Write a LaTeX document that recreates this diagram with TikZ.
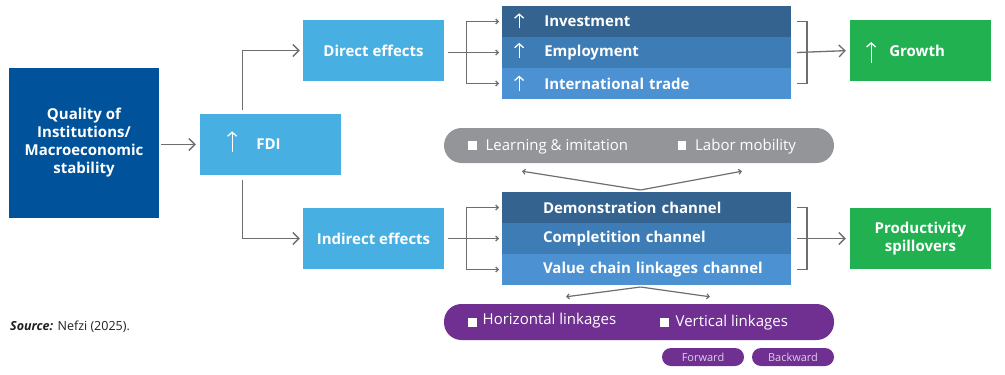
\documentclass[tikz,border=0pt]{standalone}
\usepackage{fontspec}
\setmainfont{Open Sans}
\usetikzlibrary{arrows.meta, calc, positioning}

\definecolor{instblue}{RGB}{0,83,155}
\definecolor{fxblue}{RGB}{71,175,226}
\definecolor{rowone}{RGB}{53,99,143}
\definecolor{rowtwo}{RGB}{61,124,181}
\definecolor{rowthree}{RGB}{76,145,210}
\definecolor{outgreen}{RGB}{33,177,81}
\definecolor{pillgray}{RGB}{147,149,152}
\definecolor{pillpurple}{RGB}{112,48,145}
\definecolor{tagtext}{RGB}{222,205,234}
\definecolor{linegray}{RGB}{110,110,113}
\definecolor{srctext}{RGB}{35,31,32}

% thin white up arrow used inside the boxes
\newcommand{\uparr}[2]{\smash{\tikz[baseline=0pt]\draw[white, line width=1.3pt, -{Straight Barb[length=4pt,width=9pt]}] (0pt,-#2) -- (0pt,#1);}}
\newcommand{\sq}[1]{\textcolor{white}{\rule[#1]{8.5pt}{8.5pt}}}

\tikzset{
  box/.style={fill=fxblue, text=white, font=\bfseries\fontsize{15}{18}\selectfont,
    minimum width=141pt, minimum height=61pt, inner sep=0pt, align=center},
  rowbox/.style={text=white, font=\bfseries\fontsize{15}{18}\selectfont,
    minimum width=289pt, minimum height=31pt, inner xsep=12pt, inner ysep=0pt,
    outer sep=0pt, text width=265pt, align=left},
  pill/.style={minimum width=390pt, rounded corners=17.5pt, inner sep=0pt},
  pilltext/.style={text=white, font=\fontsize{15}{18}\selectfont, inner sep=0pt},
  tag/.style={fill=pillpurple, text=tagtext, font=\fontsize{11}{13}\selectfont,
    minimum width=82pt, minimum height=18pt, rounded corners=9pt, inner sep=0pt},
  conn/.style={draw=linegray, line width=1.3pt, -{Straight Barb[length=6pt,width=12pt]}},
  link/.style={draw=linegray, line width=1.2pt},
  tip/.style={link, -{Straight Barb[length=2.5pt,width=5pt]}},
}

\begin{document}
\begin{tikzpicture}[x=1pt, y=-1pt]
\useasboundingbox (0,0) rectangle (1005,375);

% Left column
\node[box, fill=instblue, minimum width=150pt, minimum height=150pt] (inst) at (84,143)
  {Quality of\\Institutions/\\Macroeconomic\\stability};
\node[box, inner xsep=27pt, text width=87pt, align=left] (fdi) at (270.5,144.5)
  {\uparr{18.5pt}{2.5pt}\hspace{19pt}FDI};
\node[box] (direct) at (373.5,50.5) {Direct effects};
\node[box] (indirect) at (373.5,238.5) {Indirect effects};

% Direct effects list
\node[rowbox, fill=rowone] (inv) at (646.5,21.5) {\uparr{13.5pt}{1.5pt}\hspace{20pt}Investment};
\node[rowbox, fill=rowtwo, below=0pt of inv] (emp) {\uparr{13.5pt}{1.5pt}\hspace{20pt}Employment};
\node[rowbox, fill=rowthree, below=0pt of emp] (trade) {\uparr{13.5pt}{1.5pt}\hspace{20pt}International trade};

% Indirect effects list
\node[rowbox, fill=rowone] (dem) at (646.5,207.5) {\hspace*{29pt}Demonstration channel};
\node[rowbox, fill=rowtwo, below=0pt of dem] (comp) {\hspace*{29pt}Completition channel};
\node[rowbox, fill=rowthree, below=0pt of comp] (val) {\hspace*{29pt}Value chain linkages channel};

% Outcomes
\node[box, fill=outgreen, inner xsep=16pt, text width=109pt, align=left] (growth) at (920.5,50.5)
  {\uparr{14pt}{6.5pt}\hspace{13pt}Growth};
\node[box, fill=outgreen] (prod) at (920.5,238.5) {Productivity\\spillovers};

% Channel pills
\node[pill, fill=pillgray, minimum height=35pt] (mechpill) at (639,145.5) {};
\node[pilltext, anchor=base west] (learn) at (468,150.5) {\sq{1pt}\hspace{9pt}Learning \& imitation};
\node[pilltext, anchor=base west] (labor) at (677.5,150.5) {\sq{1pt}\hspace{9pt}Labor mobility};

\node[pill, fill=pillpurple, minimum height=36pt] (linkpill) at (639,322) {};
\node[pilltext, anchor=base west] (horiz) at (468,324) {\sq{-2.7pt}\hspace{6pt}Horizontal linkages};
\node[pilltext, anchor=base west] (vert) at (660,326.7) {\sq{0pt}\hspace{7pt}Vertical linkages};
\node[tag] (fwd) at (703,357) {Forward};
\node[tag] (bwd) at (793,357) {Backward};

% Source
\node[anchor=base west, text=srctext, font=\fontsize{12.5}{15}\selectfont, inner sep=0pt] (src) at (10,330)
  {\textbf{\textit{Source:}} Nefzi (2025).};

% Main connectors
\draw[conn, shorten <=2pt, shorten >=4pt] (inst.east |- fdi.west) -- (fdi.west);
\draw[conn, shorten >=3pt] ($(fdi.north west)+(43,-4)$) |- (direct.west);
\draw[conn, shorten >=3pt] ($(fdi.south west)+(43,5)$) |- (indirect.west);

% Fork into the direct list
\coordinate (dsplit) at ($(direct.east)+(22,0)$);
\draw[link] (dsplit |- inv.west) -- (dsplit |- trade.west);
\draw[tip, shorten >=3pt] (dsplit |- inv.west) -- (inv.west);
\draw[tip, shorten >=3pt] (dsplit |- trade.west) -- (trade.west);
\draw[tip, shorten <=4pt, shorten >=3pt] (direct.east |- emp.west) -- (emp.west);

% Fork into the indirect list
\coordinate (isplit) at ($(indirect.east)+(22,0)$);
\draw[link] (isplit |- dem.west) -- (isplit |- val.west);
\draw[tip, shorten >=3pt] (isplit |- dem.west) -- (dem.west);
\draw[tip, shorten >=3pt] (isplit |- val.west) -- (val.west);
\draw[tip, shorten <=4pt, shorten >=3pt] (indirect.east |- comp.west) -- (comp.west);

% Brackets to the outcomes
\coordinate (dmerge) at ($(emp.east)+(16,0)$);
\draw[link] ($(inv.east)+(6,0)$) -| (dmerge |- trade.east) -- ($(trade.east)+(6,0)$);
\draw[conn, shorten >=4pt] ($(emp.east)+(6,0)$) -- (growth.west);
\coordinate (imerge) at ($(comp.east)+(16,0)$);
\draw[link] ($(dem.east)+(6,0)$) -| (imerge |- val.east) -- ($(val.east)+(6,0)$);
\draw[conn, shorten >=4pt] ($(comp.east)+(6,0)$) -- (prod.west);

% Channels to the pills
\coordinate (chtop) at ($(dem.north)+(-6,-2)$);
\draw[tip] (chtop) -- ($(mechpill.south)+(-117,8)$);
\draw[tip] (chtop) -- ($(mechpill.south)+(103,8)$);
\coordinate (chbot) at ($(val.south)+(-6,2)$);
\draw[tip] (chbot) -- ($(linkpill.north)+(-73,-7)$);
\draw[tip] (chbot) -- ($(linkpill.north)+(71,-7)$);

\end{tikzpicture}
\end{document}
